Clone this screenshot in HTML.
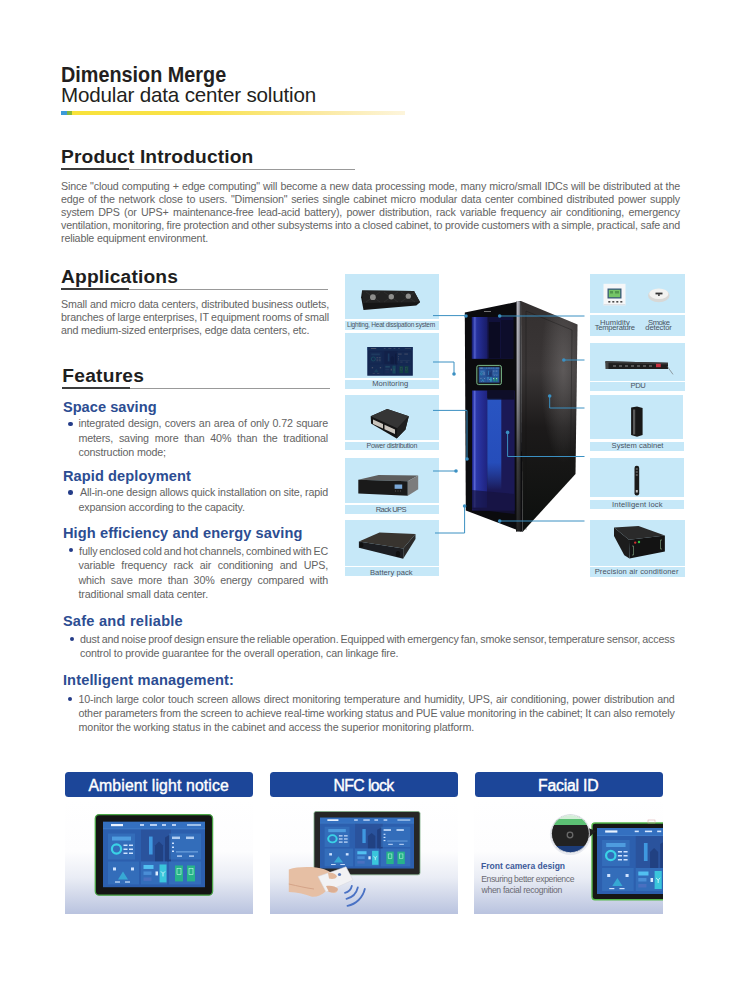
<!DOCTYPE html>
<html><head><meta charset="utf-8">
<style>
*{margin:0;padding:0;box-sizing:border-box}
html,body{width:742px;height:999px;background:#fff;overflow:hidden}
body{position:relative;font-family:"Liberation Sans",sans-serif;color:#222}
.a{position:absolute;white-space:nowrap}
.t{position:absolute;white-space:pre;line-height:1.117em;font-family:"Liberation Sans",sans-serif}
.h1{font-weight:bold;font-size:21px;letter-spacing:-0.6px;color:#231f20}
.h1b{font-size:19.6px;letter-spacing:0.3px;color:#231f20}
.sec{font-weight:bold;font-size:19.4px;color:#1d1d1f}
.ul{position:absolute;height:1px;background:#999}
.ul i{position:absolute;left:0;top:-0.8px;height:1.9px;background:#3c3c3c}
.p{position:absolute;font-size:10.4px;line-height:13.1px;color:#5a5a5a;text-align:justify;white-space:normal}
.p span{display:block;text-align:justify;text-align-last:justify;height:13.1px}
.p span.l{text-align-last:left}
.sub{font-weight:bold;font-size:14.9px;color:#2c4f95;letter-spacing:0}
.dot{position:absolute;width:4.5px;height:4.5px;border-radius:50%;background:#243c88}
.btn{position:absolute;top:772px;height:25px;background:#1c4699;border-radius:3.5px;color:#fff;font-size:16px;text-align:center;line-height:25px}
.card{position:absolute;top:800px;height:113.5px;background:linear-gradient(#fff 0%,#fdfdfe 45%,#eaedf5 68%,#b9c3df 100%)}
.pn{position:absolute;background:#c6e8f8}
.lb{position:absolute;background:#c6e8f8;color:#55606e;font-size:7.6px;text-align:center;white-space:nowrap}
</style></head><body>
<div class="a" style="left:61px;top:111.3px;width:344px;height:3.6px;background:linear-gradient(90deg,#3b9ad8 0,#3b9ad8 6px,#7cb341 6px,#8dbb3a 11px,#f8e23a 11px,#f9e24a 40%,#fbe9a0 75%,#fdf5dc 100%)"></div>
<div class="ul" style="left:61px;top:169px;width:294px"><i style="width:68px"></i></div>
<div class="ul" style="left:61px;top:289px;width:267px"><i style="width:68px"></i></div>
<div class="ul" style="left:62px;top:388px;width:267.5px"><i style="width:68px"></i></div>
<div class="dot" style="left:68.1px;top:421.5px"></div>
<div class="dot" style="left:68.1px;top:490.1px"></div>
<div class="dot" style="left:68.5px;top:547.7px"></div>
<div class="dot" style="left:69.7px;top:636.9px"></div>
<div class="dot" style="left:67.9px;top:696.6px"></div>

<!-- Buttons -->
<div class="btn" style="left:65px;width:188px"></div>
<div class="btn" style="left:270px;width:188px"></div>
<div class="btn" style="left:475px;width:188px"></div>

<div class="card" style="left:65px;width:188px"></div>
<div class="card" style="left:270px;width:188px"></div>
<div class="card" style="left:474px;width:189px"></div>

<!-- Right diagram panels -->
<div class="pn" style="left:345px;top:274px;width:94px;height:45px"></div>
<div class="lb" style="left:345px;top:321px;width:94px;height:9px;line-height:9px;font-size:6.6px"></div>
<div class="pn" style="left:345px;top:333px;width:94px;height:45px"></div>
<div class="lb" style="left:345px;top:380px;width:94px;height:9px;line-height:9px"></div>
<div class="pn" style="left:345px;top:395px;width:94px;height:45px"></div>
<div class="lb" style="left:345px;top:442px;width:94px;height:8px;line-height:8px;font-size:6.8px"></div>
<div class="pn" style="left:345px;top:458px;width:94px;height:45px"></div>
<div class="lb" style="left:345px;top:505px;width:94px;height:9px;line-height:9px"></div>
<div class="pn" style="left:345px;top:520px;width:94px;height:46px"></div>
<div class="lb" style="left:345px;top:567px;width:94px;height:9px;line-height:9px"></div>

<div class="pn" style="left:590px;top:274px;width:95px;height:39px"></div>
<div class="lb" style="left:590px;top:315px;width:95px;height:21px"></div>
<div class="pn" style="left:590px;top:343px;width:95px;height:38px"></div>
<div class="lb" style="left:590px;top:382px;width:95px;height:9px;line-height:9px"></div>
<div class="pn" style="left:590px;top:395px;width:93px;height:44px"></div>
<div class="lb" style="left:590px;top:442px;width:94px;height:9px;line-height:9px"></div>
<div class="pn" style="left:590px;top:458px;width:94px;height:39px"></div>
<div class="lb" style="left:590px;top:500px;width:94px;height:9px;line-height:9px"></div>
<div class="pn" style="left:590px;top:520px;width:95px;height:46px"></div>
<div class="lb" style="left:590px;top:567px;width:95px;height:10px;line-height:10px"></div>


<svg style="position:absolute;left:0;top:0" width="742" height="999" viewBox="0 0 742 999">
<defs>
  <symbol id="scr" viewBox="0 0 102 66" preserveAspectRatio="none">
    <rect x="0" y="0" width="102" height="66" fill="#2c5fae"/>
    <rect x="38" y="8" width="30" height="32" fill="#2a5098" opacity="0.8"/>
    <polygon points="52,40 52,24 56,20 60,24 60,40" fill="#203f80" opacity="0.9"/>
    <polygon points="62,40 62,16 67,13 68,40" fill="#1f3c7a" opacity="0.8"/>
    <rect x="0" y="0" width="102" height="7" fill="#3470c0"/>
    <rect x="0" y="7" width="102" height="0.6" fill="#5aa0e8" opacity="0.7"/>
    <rect x="8" y="2.4" width="12" height="2.2" fill="#e8f2ff"/>
    <rect x="37" y="2.6" width="4" height="1.6" fill="#d8e8ff"/>
    <rect x="47" y="2.6" width="7" height="1.6" fill="#d8e8ff"/>
    <rect x="59" y="2.6" width="4" height="1.6" fill="#d8e8ff"/>
    <rect x="69" y="2.6" width="4" height="1.6" fill="#d8e8ff"/>
    <rect x="84" y="2.6" width="14" height="1.6" fill="#b8d4f4"/>
    <rect x="5" y="12" width="27" height="26" fill="#3a78c4" opacity="0.55"/>
    <rect x="9" y="15" width="19" height="4" fill="#55a8e8" opacity="0.8"/>
    <circle cx="13.5" cy="27.5" r="4.6" fill="none" stroke="#3ad2e6" stroke-width="2.2"/>
    <rect x="20.5" y="23" width="4" height="1.5" fill="#cfe3ff"/><rect x="26" y="23" width="4" height="1.5" fill="#cfe3ff"/>
    <rect x="20.5" y="27" width="4" height="1.5" fill="#cfe3ff"/><rect x="26" y="27" width="4" height="1.5" fill="#cfe3ff"/>
    <rect x="20.5" y="31" width="4" height="1.5" fill="#cfe3ff"/><rect x="26" y="31" width="4" height="1.5" fill="#cfe3ff"/>
    <rect x="46" y="15" width="3.6" height="18" fill="#3f98e0"/>
    <rect x="66" y="12" width="32" height="26" fill="#3a78c4" opacity="0.55"/>
    <rect x="69" y="15" width="8" height="2.5" fill="#cfe3ff" opacity="0.8"/><rect x="83" y="15" width="8" height="2.5" fill="#cfe3ff" opacity="0.8"/>
    <rect x="69" y="21" width="2" height="1.5" fill="#cfe3ff"/><rect x="69" y="25" width="2" height="1.5" fill="#cfe3ff"/><rect x="69" y="29" width="2" height="1.5" fill="#cfe3ff"/>
    <rect x="73" y="30" width="22" height="0.8" fill="#8bbcf0"/>
    <rect x="74" y="34" width="5" height="1.2" fill="#cfe3ff"/><rect x="86" y="34" width="5" height="1.2" fill="#cfe3ff"/>
    <rect x="5" y="40" width="31" height="23" fill="#3a78c4" opacity="0.55"/>
    <path d="M15 58 L20 50 L25 58 Z" fill="#3ad2e6" opacity="0.6"/>
    <rect x="10" y="46" width="3" height="3" fill="#cfe3ff"/><rect x="28" y="46" width="3" height="3" fill="#cfe3ff"/>
    <rect x="12" y="60" width="5" height="1.2" fill="#cfe3ff"/><rect x="22" y="60" width="5" height="1.2" fill="#cfe3ff"/>
    <rect x="38" y="40" width="26" height="23" fill="#3a78c4" opacity="0.55"/>
    <rect x="40.5" y="43.5" width="10" height="4" fill="#52c0f0"/>
    <rect x="40.5" y="50" width="8" height="3.5" fill="#4a8ed6"/>
    <rect x="40.5" y="56" width="8" height="3.5" fill="#4a70c0"/>
    <rect x="52.5" y="50" width="2.5" height="4" fill="#dfeeff"/>
    <rect x="56.5" y="43" width="7" height="18" fill="#3ac6dc"/>
    <path d="M58 50 l2 2 l2 -2 M60 52 v3" stroke="#e8ffff" stroke-width="0.8" fill="none"/>
    <rect x="66" y="40" width="32" height="23" fill="#3a78c4" opacity="0.55"/>
    <rect x="72" y="44" width="8" height="16" fill="#27b48a"/>
    <rect x="84" y="44" width="8" height="16" fill="#27b48a"/>
    <rect x="74" y="47" width="4" height="6" fill="none" stroke="#c8ffe6" stroke-width="0.6"/>
    <rect x="86" y="47" width="4" height="6" fill="none" stroke="#c8ffe6" stroke-width="0.6"/>
  </symbol>
  <linearGradient id="sideG" x1="0" y1="0" x2="0" y2="1">
    <stop offset="0" stop-color="#343030"/>
    <stop offset="0.3" stop-color="#3a3636"/>
    <stop offset="0.55" stop-color="#1c1a1a"/>
    <stop offset="1" stop-color="#0c0f0d"/>
  </linearGradient>
  <radialGradient id="sideHi" cx="0.75" cy="0.3" r="0.4">
    <stop offset="0" stop-color="#7a7676" stop-opacity="0.55"/>
    <stop offset="1" stop-color="#7a7878" stop-opacity="0"/>
  </radialGradient>
  <linearGradient id="stripU" x1="0" y1="0" x2="1" y2="0">
    <stop offset="0" stop-color="#18207a"/>
    <stop offset="0.1" stop-color="#3444c0"/>
    <stop offset="0.18" stop-color="#6474ec"/>
    <stop offset="0.3" stop-color="#2c3ab8"/>
    <stop offset="1" stop-color="#1a1e70"/>
  </linearGradient>
  <linearGradient id="stripL" x1="0" y1="0" x2="1" y2="0">
    <stop offset="0" stop-color="#1a2080"/>
    <stop offset="0.1" stop-color="#3848c8"/>
    <stop offset="0.18" stop-color="#7080f4"/>
    <stop offset="0.28" stop-color="#3040c0"/>
    <stop offset="1" stop-color="#20268a"/>
  </linearGradient>
  <linearGradient id="innerL" x1="0" y1="0" x2="0" y2="1">
    <stop offset="0" stop-color="#2a58c8"/>
    <stop offset="0.7" stop-color="#2650c0"/>
    <stop offset="1" stop-color="#2a5cd8" stop-opacity="0"/>
  </linearGradient>
  <linearGradient id="pillarFade" x1="0" y1="0" x2="0" y2="1">
    <stop offset="0" stop-color="#111" stop-opacity="0"/>
    <stop offset="0.35" stop-color="#111" stop-opacity="0.15"/>
    <stop offset="0.7" stop-color="#111" stop-opacity="0.75"/>
    <stop offset="1" stop-color="#111" stop-opacity="0.9"/>
  </linearGradient>
  <linearGradient id="pillar" x1="0" y1="0" x2="1" y2="0">
    <stop offset="0" stop-color="#2a2a2c"/>
    <stop offset="0.3" stop-color="#b8b8c0"/>
    <stop offset="0.65" stop-color="#9a9aa2"/>
    <stop offset="1" stop-color="#1c1c1e"/>
  </linearGradient>
</defs>

<!-- ===== cabinet ===== -->
<polygon points="521,301 577.5,324.4 575.5,474 522.5,532" fill="url(#sideG)"/>
<polygon points="521,301 577.5,324.4 575.5,474 522.5,532" fill="url(#sideHi)"/>
<polyline points="526,530 526,311 572,330 570.5,470" fill="none" stroke="#141414" stroke-width="0.8" opacity="0.45"/>
<polygon points="464.8,312.5 521,301 522.5,532 465.8,510.5" fill="#0b0b0e"/>
<rect x="471.4" y="317" width="42" height="41.8" fill="#11113a"/>
<rect x="472" y="317" width="15.5" height="41.8" fill="url(#stripU)" opacity="0.8"/>
<rect x="489" y="322" width="11" height="36" fill="#0a0a1e" opacity="0.85"/>
<rect x="501" y="320" width="12" height="38" fill="#0c0c22" opacity="0.6"/>
<rect x="472" y="390.6" width="42.6" height="120" fill="#1b1956"/>
<rect x="472" y="390.6" width="15" height="117" fill="url(#stripL)" opacity="0.8"/>
<rect x="487.3" y="398" width="14" height="92" fill="url(#innerL)" opacity="0.95"/>
<rect x="487.3" y="390.6" width="27" height="9" fill="#0d0d24" opacity="0.9"/>
<polygon points="472,490 514.6,494 514.6,514 472,509" fill="#15133e" opacity="0.7"/>
<rect x="516" y="301.5" width="5" height="230" fill="url(#pillar)"/>
<rect x="516" y="301.5" width="5" height="230" fill="url(#pillarFade)"/>
<rect x="476.8" y="365.4" width="24.6" height="19.2" rx="1.8" fill="#1a1c1c" stroke="#7ab888" stroke-width="1"/>
<use href="#scr" x="478.6" y="367.2" width="21" height="15.6"/>
<rect x="478.6" y="367.2" width="21" height="15.6" fill="#0a0e28" opacity="0.2"/>
<rect x="484" y="311" width="7" height="1" fill="#777"/>

<!-- ===== connectors ===== -->
<g stroke="#3b90c2" stroke-width="1" fill="none">
  <path d="M433 315.6 H466"/>
  <path d="M433 362 H454 V374"/>
  <path d="M433 410.4 H467 V459"/>
  <path d="M433 471 H456"/>
  <path d="M435 533 H464.6 V506"/>
  <path d="M499.7 316 H584.5"/>
  <path d="M563.8 360 H584.5"/>
  <path d="M549.7 396 V408 H584.5"/>
  <path d="M507.6 432.4 V456.5 H584.5"/>
  <path d="M499.7 521 H584.5"/>
</g>
<g fill="#3b90c2">
  <circle cx="466" cy="316" r="1.8"/><circle cx="454" cy="374" r="1.8"/><circle cx="467" cy="459" r="1.8"/>
  <circle cx="456" cy="471" r="1.8"/><circle cx="464.6" cy="506" r="1.8"/>
  <circle cx="499.7" cy="316" r="1.8"/><circle cx="563.8" cy="360" r="1.8"/><circle cx="549.7" cy="396" r="1.8"/>
  <circle cx="507.6" cy="432.4" r="1.8"/><circle cx="499.7" cy="521" r="1.8"/>
</g>

<!-- ===== product images ===== -->
<!-- fan tray -->
<polygon points="362.1,290.5 414,291 420.1,302.3 416.3,305.6 363.5,309.9 361.1,297.2" fill="#161616"/>
<polygon points="362.1,290.5 414,291 420.1,302.3 363,303" fill="#232323"/>
<g fill="none" stroke="#3a3a3a" stroke-width="0.5"><path d="M366 292 L380 302 M380 292 L366 302 M384 292 L398 302 M398 292 L384 302 M401 292 L415 302 M415 292 L401 302"/></g>
<circle cx="372.9" cy="297.2" r="2.9" fill="#8e8e8c"/><circle cx="391.3" cy="296.7" r="2.7" fill="#8e8e8c"/><circle cx="408.3" cy="296.2" r="2.6" fill="#8e8e8c"/>
<!-- monitoring screen -->
<use href="#scr" x="367.3" y="347" width="45.5" height="28.7"/>
<rect x="367.3" y="347" width="45.5" height="28.7" fill="#080a22" opacity="0.68"/>
<!-- power distribution -->
<polygon points="370.7,416.2 387.2,409.1 408.8,416.2 405.4,429.6 396.7,438.4 371,423.6" fill="#141414"/>
<polygon points="370.7,416.2 387.2,409.1 408.8,416.2 397.3,428.3" fill="#353535"/>
<polygon points="397.3,428.3 408.8,416.2 405.4,429.6 396.7,438.4" fill="#202020"/>
<polygon points="373,419.5 383,424 383,428.5 373,424" fill="#c9c4bc"/>
<polygon points="384.5,424.8 395,429.5 395,434 384.5,429.3" fill="#c9c4bc"/>
<!-- rack UPS -->
<polygon points="358.3,479.8 378.6,475.1 418.2,475.5 407.8,481.2" fill="#5e5e5e"/>
<polygon points="358.3,479.8 407.8,481.2 407.8,495.8 358.3,493.5" fill="#1a1a1a"/>
<polygon points="407.8,481.2 418.2,475.5 418.2,489.2 407.8,495.8" fill="#7c7c7c"/>
<rect x="394.6" y="484.5" width="7.6" height="4.3" fill="#7aa8d8"/>
<g fill="#555"><rect x="395" y="490.5" width="1" height="1"/><rect x="397.5" y="490.5" width="1" height="1"/><rect x="400" y="490.5" width="1" height="1"/></g>
<!-- battery pack -->
<polygon points="358.9,541.6 379.5,532.4 415.5,534.1 403.2,548.6" fill="#38342f"/>
<polygon points="358.9,541.6 403.2,548.6 403.2,558.7 358.9,547.7" fill="#1c1e22"/>
<polygon points="403.2,548.6 415.5,534.1 415.5,539 403.2,558.7" fill="#2a2a2a"/>
<ellipse cx="361.5" cy="545" rx="2" ry="2.6" fill="#101010"/><ellipse cx="398" cy="554" rx="2.2" ry="3" fill="#101010"/>
<!-- thermostat + smoke -->
<rect x="603.5" y="283.8" width="22" height="21.5" fill="#f6f7f8"/>
<rect x="603.5" y="304" width="22" height="1.3" fill="#dde2e6"/>
<rect x="607.5" y="288.5" width="14" height="10" fill="#3a5a7a"/>
<rect x="608.8" y="289.8" width="11.4" height="7.4" fill="#74c466"/>
<rect x="610" y="291" width="3" height="2.5" fill="#3a7a3a" opacity="0.6"/><rect x="615" y="291" width="4" height="2.5" fill="#3a7a3a" opacity="0.6"/>
<rect x="608.3" y="301" width="2" height="1.6" fill="#4a4a4a"/><rect x="612.3" y="301" width="2" height="1.6" fill="#4a4a4a"/><rect x="616.3" y="301" width="2" height="1.6" fill="#4a4a4a"/><rect x="620.3" y="301" width="2" height="1.6" fill="#4a4a4a"/>
<ellipse cx="658.8" cy="295.5" rx="10.8" ry="6.8" fill="#d8d8d6"/>
<ellipse cx="658.8" cy="293.8" rx="9.6" ry="5.2" fill="#f2f2f0"/>
<rect x="655.5" y="292.6" width="7" height="1.8" fill="#333"/>
<rect x="658" y="294" width="1.8" height="2" fill="#555"/>
<!-- PDU -->
<polygon points="605.5,361.2 668,362.8 668,369 606,369" fill="#1e1e1e"/>
<polygon points="605.5,361.2 668,362.8 668,364.5 605.5,363" fill="#3a3a3a"/>
<g fill="#555"><rect x="613" y="365" width="3" height="2"/><rect x="619" y="365" width="3" height="2"/><rect x="625" y="365" width="3" height="2"/><rect x="631" y="365" width="3" height="2"/><rect x="637" y="365" width="3" height="2"/><rect x="643" y="365" width="3" height="2"/><rect x="649" y="365" width="3" height="2"/></g>
<rect x="656" y="363.8" width="4.8" height="3.4" fill="#c83040"/>
<rect x="605.5" y="361.5" width="3" height="7.5" fill="#444"/>
<path d="M667 366 L673 374.4" stroke="#666" stroke-width="0.6"/>
<!-- system cabinet -->
<polygon points="631.1,407.5 637,406.5 642.6,408 642.6,435 637,436.8 631.1,435" fill="#181818"/>
<rect x="633" y="409.5" width="2.2" height="25" fill="#5a5a5a"/>
<!-- intelligent lock -->
<rect x="634.5" y="465.8" width="4.7" height="29.6" rx="2.2" fill="#1a1a1a"/>
<rect x="635.8" y="468.5" width="2" height="1" fill="#888"/><rect x="635.8" y="471.5" width="2" height="1" fill="#888"/><rect x="635.8" y="474.5" width="2" height="1" fill="#888"/><rect x="635.8" y="490" width="2" height="2.5" fill="#bbb"/>
<!-- precision AC -->
<polygon points="614,527.4 638.5,526 664.9,535.5 629,539.7" fill="#2a2a2a"/>
<polygon points="629,539.7 664.9,535.5 664.9,551.5 629.5,558.6" fill="#131313"/>
<polygon points="614,527.4 629,539.7 629.5,558.6 624.3,555.3 614,536" fill="#1c1c1c"/>
<circle cx="635.2" cy="542.6" r="1.2" fill="#d03030"/><circle cx="639" cy="542" r="1.2" fill="#30c040"/>
<path d="M632 546 h1.5 v9 h-1.5" fill="none" stroke="#7a9a7a" stroke-width="0.7"/>
<path d="M662 540 h-1.5 v9 h1.5" fill="none" stroke="#7a9a7a" stroke-width="0.7"/>

<!-- ===== bottom cards ===== -->
<!-- card 1 monitor -->
<rect x="95.3" y="814.6" width="117.3" height="80.6" rx="4" fill="#141414" stroke="#4aa646" stroke-width="1.3"/>
<use href="#scr" x="103" y="821.6" width="102" height="65.8"/>
<!-- card 2 monitor -->
<rect x="314" y="811.5" width="106" height="63.3" rx="2" fill="#262626" stroke="#7fae88" stroke-width="0.8"/>
<use href="#scr" x="320" y="817.4" width="94" height="51.3"/>
<!-- hand + nfc card -->
<path d="M288.8 869.5 C296 867 306 866.5 316 867.5 C322 868 327 870 331 872.5 L337 875 C340 877 339 880 335 880.5 L328 880 L336 886.5 C339 889 338 893 334 893 L326 891 C322 895 318 897 312 896.8 C305 894 298 892.5 288.8 892 Z" fill="#e6bfa4"/>
<path d="M288.8 884 C298 886 306 888 314 889" stroke="#cf9c80" stroke-width="0.8" fill="none"/>
<polygon points="318,876.5 346,866.8 353,880 326,892" fill="#f2f2f4"/>
<polygon points="318,876.5 346,866.8 353,880 326,892" fill="none" stroke="#d6d6dc" stroke-width="0.5"/>
<circle cx="339.5" cy="874.5" r="1.6" fill="#5a7ab8"/>
<path d="M328 873 C332 872 336 874 337 876.5 C336 879 332 879.5 329 878.5 Z" fill="#e2b89c"/>
<path d="M326 886 C330 885 336 886 338 889 C337 892 333 893 329 892 Z" fill="#dcae92"/>
<g fill="none" stroke="#4a72c4" stroke-width="1.8" stroke-linecap="round">
  <path d="M351.8 886 A9 9 0 0 1 345 892.8"/>
  <path d="M357.8 887.5 A15 15 0 0 1 346.5 898.8"/>
  <path d="M364.8 889 A22 22 0 0 1 347.5 905.8"/>
</g>
<!-- card 3 monitor (clipped) -->
<svg x="474" y="800" width="189" height="114" viewBox="474 800 189 114">
  <rect x="592" y="823" width="80" height="76.7" rx="3" fill="#161616" stroke="#56b84c" stroke-width="1.4"/>
  <use href="#scr" x="597" y="828" width="104" height="66"/>
  <rect x="648" y="820" width="7" height="3" fill="none" stroke="#d8a0a0" stroke-width="0.5"/>
</svg>
<!-- magnifier -->
<circle cx="570.4" cy="834.5" r="20.5" fill="#d8dce6" opacity="0.6"/>
<polygon points="583,826 596,831 583,843" fill="#1e1e1e"/>
<clipPath id="mag"><circle cx="570.4" cy="833.7" r="19"/></clipPath>
<g clip-path="url(#mag)">
  <rect x="550" y="814" width="42" height="42" fill="#222"/>
  <rect x="550" y="814" width="42" height="5" fill="#d4eed8"/>
  <rect x="550" y="819" width="42" height="6" fill="#5cc074"/>
  <rect x="550" y="846" width="42" height="10" fill="#1c3c78"/>
</g>
<circle cx="570.4" cy="833.7" r="19" fill="none" stroke="#f0f2f6" stroke-width="0.8"/>
<circle cx="570" cy="835" r="2.8" fill="none" stroke="#6a6a6a" stroke-width="1.3"/>
</svg>

<div class="t" style="left:61.3px;top:64.00px;font-size:21.3px;font-weight:bold;color:#231f20;transform-origin:0 0;transform:scaleX(0.9306);">Dimension Merge</div>
<div class="t" style="left:61px;top:83.00px;font-size:20.6px;font-weight:normal;color:#231f20;letter-spacing:-0.174px;">Modular data center solution</div>
<div class="t" style="left:61px;top:145.60px;font-size:19.2px;font-weight:bold;color:#1e1e1e;letter-spacing:0.133px;">Product Introduction</div>
<div class="t" style="left:61px;top:265.60px;font-size:19.2px;font-weight:bold;color:#1e1e1e;letter-spacing:0.155px;">Applications</div>
<div class="t" style="left:62.3px;top:364.71px;font-size:19.2px;font-weight:bold;color:#1e1e1e;letter-spacing:0.239px;">Features</div>
<div class="t" style="left:61px;top:181.01px;font-size:10.7px;color:#636363;letter-spacing:-0.150px;word-spacing:0.306px">Since &quot;cloud computing + edge computing&quot; will become a new data processing mode, many micro/small IDCs will be distributed at the</div>
<div class="t" style="left:61px;top:194.01px;font-size:10.7px;color:#636363;letter-spacing:-0.150px;word-spacing:0.950px">edge of the network close to users. &quot;Dimension&quot; series single cabinet micro modular data center combined distributed power supply</div>
<div class="t" style="left:61px;top:207.01px;font-size:10.7px;color:#636363;letter-spacing:-0.150px;word-spacing:1.479px">system DPS (or UPS+ maintenance-free lead-acid battery), power distribution, rack variable frequency air conditioning, emergency</div>
<div class="t" style="left:61px;top:220.01px;font-size:10.7px;color:#636363;letter-spacing:-0.150px;word-spacing:-0.271px">ventilation, monitoring, fire protection and other subsystems into a closed cabinet, to provide customers with a simple, practical, safe and</div>
<div class="t" style="left:61px;top:233.01px;font-size:10.7px;font-weight:normal;color:#636363;letter-spacing:-0.164px;">reliable equipment environment.</div>
<div class="t" style="left:61px;top:298.81px;font-size:10.7px;color:#636363;letter-spacing:-0.150px;word-spacing:0.088px">Small and micro data centers, distributed business outlets,</div>
<div class="t" style="left:61px;top:312.01px;font-size:10.7px;color:#636363;letter-spacing:-0.150px;word-spacing:-0.288px">branches of large enterprises, IT equipment rooms of small</div>
<div class="t" style="left:61px;top:325.01px;font-size:10.7px;font-weight:normal;color:#636363;letter-spacing:-0.180px;">and medium-sized enterprises, edge data centers, etc.</div>
<div class="t" style="left:62.9px;top:398.62px;font-size:14.6px;font-weight:bold;color:#2c4d92;letter-spacing:0.034px;">Space saving</div>
<div class="t" style="left:62.9px;top:468.01px;font-size:14.6px;font-weight:bold;color:#2c4d92;letter-spacing:0.100px;">Rapid deployment</div>
<div class="t" style="left:62.9px;top:524.62px;font-size:14.6px;font-weight:bold;color:#2c4d92;letter-spacing:0.109px;">High efficiency and energy saving</div>
<div class="t" style="left:62.9px;top:613.01px;font-size:14.6px;font-weight:bold;color:#2c4d92;letter-spacing:0.241px;">Safe and reliable</div>
<div class="t" style="left:62.9px;top:672.40px;font-size:14.6px;font-weight:bold;color:#2c4d92;letter-spacing:0.141px;">Intelligent management:</div>
<div class="t" style="left:78.5px;top:418.01px;font-size:10.7px;color:#636363;letter-spacing:-0.150px;word-spacing:0.617px">integrated design, covers an area of only 0.72 square</div>
<div class="t" style="left:78.5px;top:432.61px;font-size:10.7px;color:#636363;letter-spacing:-0.150px;word-spacing:2.999px">meters, saving more than 40% than the traditional</div>
<div class="t" style="left:78.5px;top:447.01px;font-size:10.7px;font-weight:normal;color:#636363;letter-spacing:-0.166px;">construction mode;</div>
<div class="t" style="left:80px;top:487.01px;font-size:10.7px;color:#636363;letter-spacing:-0.150px;word-spacing:-0.161px">All-in-one design allows quick installation on site, rapid</div>
<div class="t" style="left:78.5px;top:501.51px;font-size:10.7px;font-weight:normal;color:#636363;letter-spacing:-0.161px;">expansion according to the capacity.</div>
<div class="t" style="left:79.1px;top:545.61px;font-size:10.7px;color:#636363;letter-spacing:-0.150px;word-spacing:-0.848px">fully enclosed cold and hot channels, combined with EC</div>
<div class="t" style="left:78.5px;top:560.01px;font-size:10.7px;color:#636363;letter-spacing:-0.150px;word-spacing:3.795px">variable frequency rack air conditioning and UPS,</div>
<div class="t" style="left:78.5px;top:574.51px;font-size:10.7px;color:#636363;letter-spacing:-0.150px;word-spacing:2.830px">which save more than 30% energy compared with</div>
<div class="t" style="left:78.5px;top:589.01px;font-size:10.7px;font-weight:normal;color:#636363;letter-spacing:-0.119px;">traditional small data center.</div>
<div class="t" style="left:80px;top:634.01px;font-size:10.7px;color:#636363;letter-spacing:-0.150px;word-spacing:-0.694px">dust and noise proof design ensure the reliable operation. Equipped with emergency fan, smoke sensor, temperature sensor, access</div>
<div class="t" style="left:80px;top:647.81px;font-size:10.7px;font-weight:normal;color:#636363;letter-spacing:-0.149px;">control to provide guarantee for the overall operation, can linkage fire.</div>
<div class="t" style="left:78.5px;top:693.70px;font-size:10.7px;color:#636363;letter-spacing:-0.150px;word-spacing:0.569px">10-inch large color touch screen allows direct monitoring temperature and humidity, UPS, air conditioning, power distribution and</div>
<div class="t" style="left:78.5px;top:708.11px;font-size:10.7px;color:#636363;letter-spacing:-0.150px;word-spacing:-0.140px">other parameters from the screen to achieve real-time working status and PUE value monitoring in the cabinet; It can also remotely</div>
<div class="t" style="left:78.5px;top:722.01px;font-size:10.7px;font-weight:normal;color:#636363;letter-spacing:-0.110px;">monitor the working status in the cabinet and access the superior monitoring platform.</div>
<div class="t" style="left:347px;top:321.30px;font-size:6.6px;font-weight:normal;color:#48525f;letter-spacing:-0.255px;">Lighting, Heat dissipation system</div>
<div class="t" style="left:372.2px;top:380.01px;font-size:7.6px;font-weight:normal;color:#48525f;letter-spacing:0.063px;">Monitoring</div>
<div class="t" style="left:366.6px;top:442.41px;font-size:7.0px;font-weight:normal;color:#48525f;letter-spacing:-0.291px;">Power distribution</div>
<div class="t" style="left:375.7px;top:505.90px;font-size:7.6px;font-weight:normal;color:#48525f;letter-spacing:-0.591px;">Rack UPS</div>
<div class="t" style="left:369.9px;top:568.51px;font-size:7.6px;font-weight:normal;color:#48525f;letter-spacing:0.040px;">Battery pack</div>
<div class="t" style="left:630.5px;top:382.21px;font-size:7.6px;font-weight:normal;color:#48525f;letter-spacing:-0.416px;">PDU</div>
<div class="t" style="left:611.6px;top:442.31px;font-size:7.6px;font-weight:normal;color:#48525f;letter-spacing:-0.002px;">System cabinet</div>
<div class="t" style="left:612px;top:500.51px;font-size:7.6px;font-weight:normal;color:#48525f;letter-spacing:0.167px;">Intelligent lock</div>
<div class="t" style="left:594.7px;top:568.31px;font-size:7.6px;font-weight:normal;color:#48525f;letter-spacing:0.114px;">Precision air conditioner</div>
<div class="t" style="left:600px;top:318.90px;font-size:7.6px;font-weight:normal;color:#48525f;letter-spacing:0.032px;">Humidity</div>
<div class="t" style="left:594.7px;top:324.31px;font-size:7.6px;font-weight:normal;color:#48525f;letter-spacing:-0.222px;">Temperature</div>
<div class="t" style="left:648px;top:318.90px;font-size:7.6px;font-weight:normal;color:#48525f;letter-spacing:-0.428px;">Smoke</div>
<div class="t" style="left:645.3px;top:324.31px;font-size:7.6px;font-weight:normal;color:#48525f;letter-spacing:-0.119px;">detector</div>
<div class="t" style="left:88.4px;top:777.01px;font-size:15.8px;font-weight:normal;color:#ffffff;letter-spacing:0.136px;-webkit-text-stroke:0.4px #fff">Ambient light notice</div>
<div class="t" style="left:333.5px;top:777.21px;font-size:15.8px;font-weight:normal;color:#ffffff;letter-spacing:-0.619px;-webkit-text-stroke:0.4px #fff">NFC lock</div>
<div class="t" style="left:538px;top:777.01px;font-size:15.8px;font-weight:normal;color:#ffffff;letter-spacing:-0.203px;-webkit-text-stroke:0.4px #fff">Facial ID</div>
<div class="t" style="left:481.2px;top:861.11px;font-size:9.4px;font-weight:bold;color:#3c5a9a;transform-origin:0 0;transform:scaleX(0.9120);">Front camera design</div>
<div class="t" style="left:481.2px;top:875.11px;font-size:8.6px;font-weight:normal;color:#6a6a72;letter-spacing:-0.378px;">Ensuring better experience</div>
<div class="t" style="left:481.5px;top:885.80px;font-size:8.6px;font-weight:normal;color:#6a6a72;letter-spacing:-0.302px;">when facial recognition</div>
</body></html>
